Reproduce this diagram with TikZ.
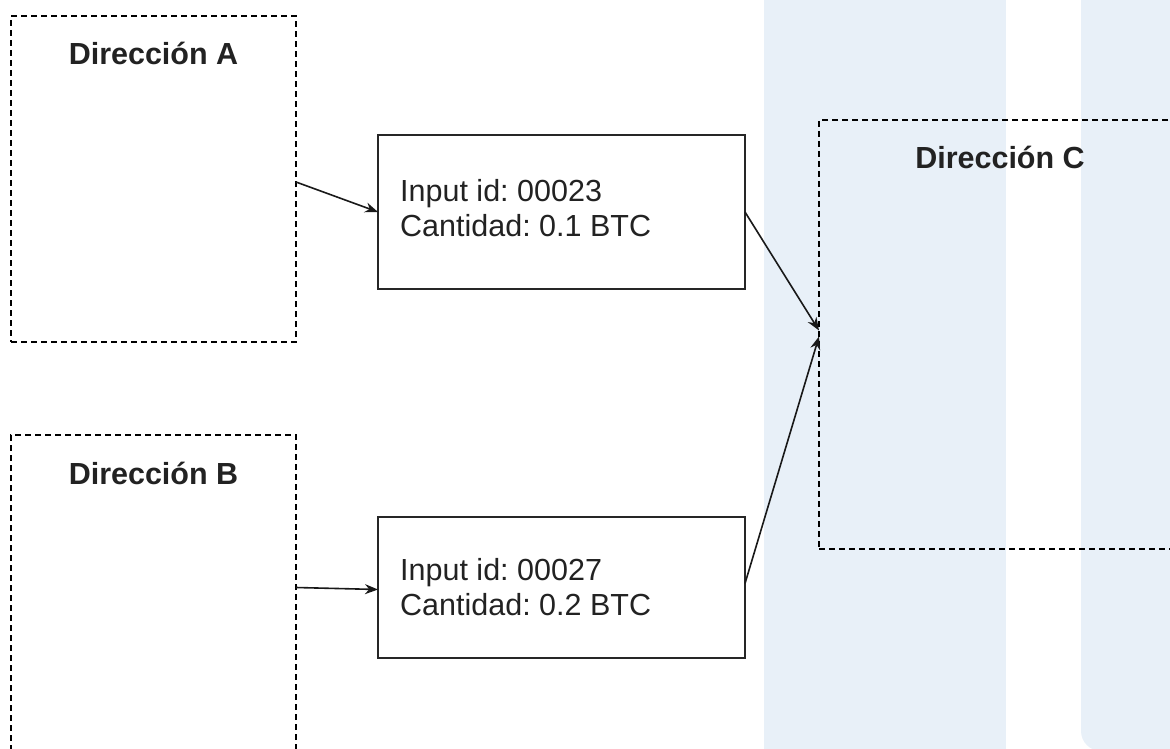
\documentclass[tikz,border=0pt]{standalone}
\usepackage{fontspec}
\setmainfont{Liberation Sans}
\usetikzlibrary{arrows.meta,calc}
\frenchspacing
\definecolor{bandblue}{RGB}{232,240,248}
\definecolor{inkgray}{RGB}{34,34,34}
\tikzset{
  x=1pt,y=1pt,
  band/.style={fill=bandblue},
  addrbox/.style={draw=black,line width=1.7pt,dash pattern=on 6pt off 4pt,rectangle,inner sep=0pt,outer sep=0pt,anchor=north west},
  inbox/.style={draw=black!85,line width=1.9pt,rectangle,inner sep=0pt,outer sep=0pt,anchor=north west},
  addrtitle/.style={font=\fontsize{30.5}{36}\selectfont\bfseries,text=inkgray,inner sep=0pt},
  intext/.style={font=\fontsize{30.5}{35}\selectfont,text=inkgray,align=left,anchor=west,inner sep=0pt},
  conn/.style={draw=black!90,line width=1.6pt,-{Stealth[length=13pt,width=10pt]}}
}
\begin{document}
\begin{tikzpicture}
\useasboundingbox (0,0) rectangle (1170,-749);
\clip (0,0) rectangle (1170,-749);
% background bands
\fill[band] (764,10) rectangle (1006,-760);
\fill[band] (1081,20) [rounded corners=20pt] -- (1081,-751) -- (1220,-751) [sharp corners] -- (1220,20) -- cycle;
% address boxes
\node[addrbox,minimum width=285,minimum height=326] (A) at (11,-16) {};
\node[addrbox,minimum width=285,minimum height=400] (B) at (11,-435) {};
\node[addrbox,minimum width=380,minimum height=429] (C) at (819,-120) {};
\node[addrtitle] (tA) at ([yshift=-37]A.north) {Dirección A};
\node[addrtitle] (tB) at ([yshift=-38]B.north) {Dirección B};
\node[addrtitle] (tC) at ([xshift=-8,yshift=-37]C.north west -| 1008,0) {Dirección C};
% input boxes
\node[inbox,minimum width=367,minimum height=154] (in1) at (378,-135) {};
\node[inbox,minimum width=367,minimum height=141] (in2) at (378,-517) {};
\node[intext] (t1) at ([xshift=22,yshift=4]in1.west) {Input id: 00023\\Cantidad: 0.1 BTC};
\node[intext] (t2) at ([xshift=22,yshift=0]in2.west) {Input id: 00027\\Cantidad: 0.2 BTC};
% connectors
\draw[conn] ([yshift=-3]A.east) -- (in1.west);
\draw[conn] (B.east |- in2.west) -- ([yshift=-2]in2.west);
\draw[conn] (in1.east) -- ([yshift=4]C.west);
\draw[conn] ([yshift=4]in2.east) -- ([yshift=-2]C.west);
\end{tikzpicture}
\end{document}
